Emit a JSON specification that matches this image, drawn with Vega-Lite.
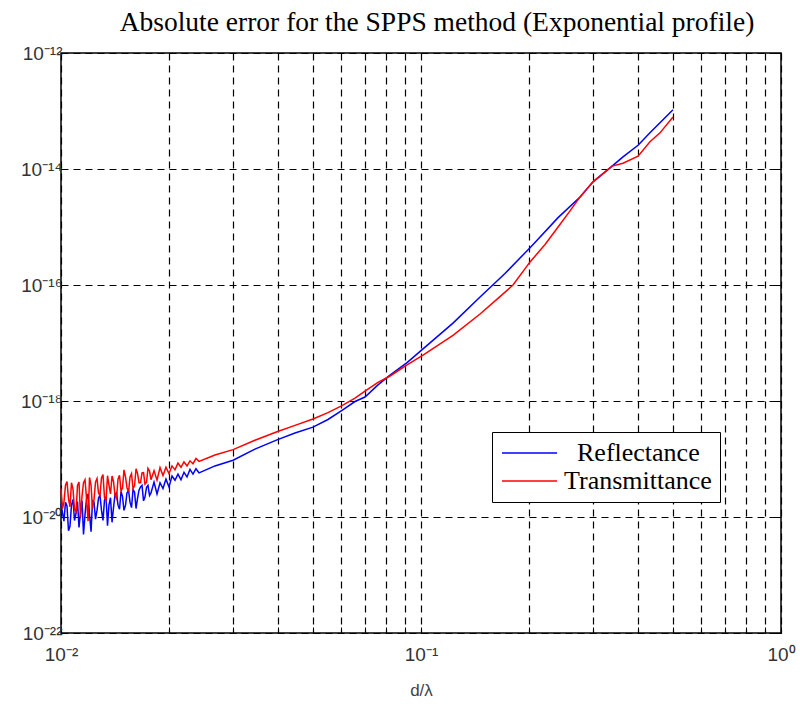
{
  "$schema": "https://vega.github.io/schema/vega-lite/v6.json",
  "width": 720,
  "height": 580,
  "autosize": {"type": "none"},
  "padding": {"left": 61, "top": 53, "right": 19, "bottom": 71},
  "background": "white",
  "title": {
    "text": "Absolute error for the SPPS method (Exponential profile)",
    "font": "Liberation Serif",
    "fontSize": 27.5,
    "fontWeight": "normal",
    "color": "black",
    "anchor": "middle",
    "dx": 16,
    "offset": 8
  },
  "config": {
    "view": {"stroke": "black", "strokeWidth": 1.5},
    "axis": {
      "labelFont": "Liberation Sans",
      "labelFontSize": 19,
      "labelColor": "#333",
      "gridColor": "#000",
      "gridDash": [7, 5],
      "gridOpacity": 1,
      "gridWidth": 1.2,
      "tickColor": "#000",
      "tickSize": -6,
      "domain": false,
      "labelFlush": false,
      "labelOverlap": false
    }
  },
  "datasets": {
    "curves": [
      {"x": 0.01, "y": 1.66e-20, "series": "Reflectance"},
      {"x": 0.010096, "y": 1.18e-20, "series": "Reflectance"},
      {"x": 0.01019, "y": 8.5e-21, "series": "Reflectance"},
      {"x": 0.010292, "y": 1.8e-20, "series": "Reflectance"},
      {"x": 0.01039, "y": 1.55e-20, "series": "Reflectance"},
      {"x": 0.010492, "y": 5.8e-21, "series": "Reflectance"},
      {"x": 0.01059, "y": 6.9e-21, "series": "Reflectance"},
      {"x": 0.010694, "y": 1.6e-20, "series": "Reflectance"},
      {"x": 0.0108, "y": 2.0e-20, "series": "Reflectance"},
      {"x": 0.010902, "y": 8.7e-21, "series": "Reflectance"},
      {"x": 0.01101, "y": 1.15e-20, "series": "Reflectance"},
      {"x": 0.011113, "y": 1.85e-20, "series": "Reflectance"},
      {"x": 0.01122, "y": 6.6e-21, "series": "Reflectance"},
      {"x": 0.011329, "y": 1.2e-20, "series": "Reflectance"},
      {"x": 0.01144, "y": 1.9e-20, "series": "Reflectance"},
      {"x": 0.011548, "y": 5.0e-21, "series": "Reflectance"},
      {"x": 0.01166, "y": 1.1e-20, "series": "Reflectance"},
      {"x": 0.011772, "y": 2.05e-20, "series": "Reflectance"},
      {"x": 0.01189, "y": 2.5e-20, "series": "Reflectance"},
      {"x": 0.012, "y": 1.12e-20, "series": "Reflectance"},
      {"x": 0.01212, "y": 5.6e-21, "series": "Reflectance"},
      {"x": 0.012232, "y": 1.9e-20, "series": "Reflectance"},
      {"x": 0.01235, "y": 1.8e-20, "series": "Reflectance"},
      {"x": 0.01247, "y": 9.2e-21, "series": "Reflectance"},
      {"x": 0.01259, "y": 1.3e-20, "series": "Reflectance"},
      {"x": 0.012711, "y": 2.1e-20, "series": "Reflectance"},
      {"x": 0.01283, "y": 2.4e-20, "series": "Reflectance"},
      {"x": 0.012957, "y": 1.3e-20, "series": "Reflectance"},
      {"x": 0.01308, "y": 8.7e-21, "series": "Reflectance"},
      {"x": 0.013209, "y": 1.97e-20, "series": "Reflectance"},
      {"x": 0.01334, "y": 2.2e-20, "series": "Reflectance"},
      {"x": 0.013465, "y": 7.1e-21, "series": "Reflectance"},
      {"x": 0.01359, "y": 1.6e-20, "series": "Reflectance"},
      {"x": 0.013725, "y": 2.15e-20, "series": "Reflectance"},
      {"x": 0.01386, "y": 8.1e-21, "series": "Reflectance"},
      {"x": 0.013991, "y": 1.45e-20, "series": "Reflectance"},
      {"x": 0.01413, "y": 2.45e-20, "series": "Reflectance"},
      {"x": 0.014263, "y": 2.6e-20, "series": "Reflectance"},
      {"x": 0.0144, "y": 1.6e-20, "series": "Reflectance"},
      {"x": 0.01454, "y": 1.36e-20, "series": "Reflectance"},
      {"x": 0.01468, "y": 2.75e-20, "series": "Reflectance"},
      {"x": 0.014821, "y": 2.25e-20, "series": "Reflectance"},
      {"x": 0.01496, "y": 1.3e-20, "series": "Reflectance"},
      {"x": 0.015109, "y": 1.6e-20, "series": "Reflectance"},
      {"x": 0.01525, "y": 2.6e-20, "series": "Reflectance"},
      {"x": 0.015402, "y": 2.9e-20, "series": "Reflectance"},
      {"x": 0.01555, "y": 1.8e-20, "series": "Reflectance"},
      {"x": 0.0157, "y": 1.45e-20, "series": "Reflectance"},
      {"x": 0.01585, "y": 2.95e-20, "series": "Reflectance"},
      {"x": 0.016005, "y": 2.7e-20, "series": "Reflectance"},
      {"x": 0.01616, "y": 1.4e-20, "series": "Reflectance"},
      {"x": 0.016315, "y": 2.1e-20, "series": "Reflectance"},
      {"x": 0.01647, "y": 2.9e-20, "series": "Reflectance"},
      {"x": 0.016631, "y": 3.3e-20, "series": "Reflectance"},
      {"x": 0.01679, "y": 3.5e-20, "series": "Reflectance"},
      {"x": 0.016954, "y": 1.9e-20, "series": "Reflectance"},
      {"x": 0.01711, "y": 2.2e-20, "series": "Reflectance"},
      {"x": 0.017283, "y": 3.25e-20, "series": "Reflectance"},
      {"x": 0.01744, "y": 3.5e-20, "series": "Reflectance"},
      {"x": 0.017618, "y": 2.35e-20, "series": "Reflectance"},
      {"x": 0.01778, "y": 2.6e-20, "series": "Reflectance"},
      {"x": 0.01813, "y": 4.0e-20, "series": "Reflectance"},
      {"x": 0.01848, "y": 2.5e-20, "series": "Reflectance"},
      {"x": 0.01884, "y": 3.9e-20, "series": "Reflectance"},
      {"x": 0.0192, "y": 3.1e-20, "series": "Reflectance"},
      {"x": 0.01957, "y": 4.5e-20, "series": "Reflectance"},
      {"x": 0.01995, "y": 3.3e-20, "series": "Reflectance"},
      {"x": 0.02034, "y": 5.1e-20, "series": "Reflectance"},
      {"x": 0.02073, "y": 4.3e-20, "series": "Reflectance"},
      {"x": 0.02113, "y": 5.5e-20, "series": "Reflectance"},
      {"x": 0.02154, "y": 4.4e-20, "series": "Reflectance"},
      {"x": 0.02196, "y": 5.9e-20, "series": "Reflectance"},
      {"x": 0.02239, "y": 4.9e-20, "series": "Reflectance"},
      {"x": 0.02282, "y": 6.6e-20, "series": "Reflectance"},
      {"x": 0.02326, "y": 5.5e-20, "series": "Reflectance"},
      {"x": 0.02371, "y": 6.8e-20, "series": "Reflectance"},
      {"x": 0.02418, "y": 5.75e-20, "series": "Reflectance"},
      {"x": 0.02677, "y": 7.6e-20, "series": "Reflectance"},
      {"x": 0.03006, "y": 9.5e-20, "series": "Reflectance"},
      {"x": 0.03457, "y": 1.48e-19, "series": "Reflectance"},
      {"x": 0.03981, "y": 2.14e-19, "series": "Reflectance"},
      {"x": 0.04467, "y": 2.8e-19, "series": "Reflectance"},
      {"x": 0.05012, "y": 3.55e-19, "series": "Reflectance"},
      {"x": 0.05516, "y": 4.8e-19, "series": "Reflectance"},
      {"x": 0.06034, "y": 6.9e-19, "series": "Reflectance"},
      {"x": 0.06556, "y": 9.8e-19, "series": "Reflectance"},
      {"x": 0.06989, "y": 1.17e-18, "series": "Reflectance"},
      {"x": 0.07595, "y": 1.9e-18, "series": "Reflectance"},
      {"x": 0.08203, "y": 2.8e-18, "series": "Reflectance"},
      {"x": 0.09146, "y": 4.6e-18, "series": "Reflectance"},
      {"x": 0.1013, "y": 7.9e-18, "series": "Reflectance"},
      {"x": 0.1227, "y": 2.2e-17, "series": "Reflectance"},
      {"x": 0.1459, "y": 6.2e-17, "series": "Reflectance"},
      {"x": 0.1711, "y": 1.58e-16, "series": "Reflectance"},
      {"x": 0.2009, "y": 4.4e-16, "series": "Reflectance"},
      {"x": 0.2403, "y": 1.45e-15, "series": "Reflectance"},
      {"x": 0.2766, "y": 3.3e-15, "series": "Reflectance"},
      {"x": 0.3005, "y": 6.0e-15, "series": "Reflectance"},
      {"x": 0.3395, "y": 1.12e-14, "series": "Reflectance"},
      {"x": 0.364, "y": 1.62e-14, "series": "Reflectance"},
      {"x": 0.4008, "y": 2.57e-14, "series": "Reflectance"},
      {"x": 0.4325, "y": 4.2e-14, "series": "Reflectance"},
      {"x": 0.5012, "y": 1.05e-13, "series": "Reflectance"},
      {"x": 0.01, "y": 3.1e-20, "series": "Transmittance"},
      {"x": 0.010096, "y": 1.4e-20, "series": "Transmittance"},
      {"x": 0.01019, "y": 1.8e-20, "series": "Transmittance"},
      {"x": 0.010292, "y": 3.55e-20, "series": "Transmittance"},
      {"x": 0.01039, "y": 4.1e-20, "series": "Transmittance"},
      {"x": 0.010492, "y": 2.05e-20, "series": "Transmittance"},
      {"x": 0.01059, "y": 1.5e-20, "series": "Transmittance"},
      {"x": 0.010694, "y": 3.9e-20, "series": "Transmittance"},
      {"x": 0.0108, "y": 3.0e-20, "series": "Transmittance"},
      {"x": 0.010902, "y": 1.36e-20, "series": "Transmittance"},
      {"x": 0.01101, "y": 1.23e-20, "series": "Transmittance"},
      {"x": 0.011113, "y": 3.5e-20, "series": "Transmittance"},
      {"x": 0.01122, "y": 4.0e-20, "series": "Transmittance"},
      {"x": 0.011329, "y": 1.0e-20, "series": "Transmittance"},
      {"x": 0.01144, "y": 2.3e-20, "series": "Transmittance"},
      {"x": 0.011548, "y": 3.9e-20, "series": "Transmittance"},
      {"x": 0.01166, "y": 4.4e-20, "series": "Transmittance"},
      {"x": 0.011772, "y": 2.1e-20, "series": "Transmittance"},
      {"x": 0.01189, "y": 8.5e-21, "series": "Transmittance"},
      {"x": 0.012, "y": 4.8e-20, "series": "Transmittance"},
      {"x": 0.01212, "y": 3.5e-20, "series": "Transmittance"},
      {"x": 0.012232, "y": 1.4e-20, "series": "Transmittance"},
      {"x": 0.01235, "y": 2.0e-20, "series": "Transmittance"},
      {"x": 0.01247, "y": 4.0e-20, "series": "Transmittance"},
      {"x": 0.01259, "y": 4.6e-20, "series": "Transmittance"},
      {"x": 0.012711, "y": 2.6e-20, "series": "Transmittance"},
      {"x": 0.01283, "y": 2.35e-20, "series": "Transmittance"},
      {"x": 0.012957, "y": 4.7e-20, "series": "Transmittance"},
      {"x": 0.01308, "y": 5.4e-20, "series": "Transmittance"},
      {"x": 0.013209, "y": 2.15e-20, "series": "Transmittance"},
      {"x": 0.01334, "y": 1.95e-20, "series": "Transmittance"},
      {"x": 0.013465, "y": 5.15e-20, "series": "Transmittance"},
      {"x": 0.01359, "y": 3.55e-20, "series": "Transmittance"},
      {"x": 0.013725, "y": 2.5e-20, "series": "Transmittance"},
      {"x": 0.01386, "y": 5.1e-20, "series": "Transmittance"},
      {"x": 0.013991, "y": 4.1e-20, "series": "Transmittance"},
      {"x": 0.01413, "y": 2.35e-20, "series": "Transmittance"},
      {"x": 0.014263, "y": 2.1e-20, "series": "Transmittance"},
      {"x": 0.0144, "y": 4.5e-20, "series": "Transmittance"},
      {"x": 0.01454, "y": 5.25e-20, "series": "Transmittance"},
      {"x": 0.01468, "y": 2.8e-20, "series": "Transmittance"},
      {"x": 0.014821, "y": 3.2e-20, "series": "Transmittance"},
      {"x": 0.01496, "y": 6.5e-20, "series": "Transmittance"},
      {"x": 0.015109, "y": 4.9e-20, "series": "Transmittance"},
      {"x": 0.01525, "y": 3.2e-20, "series": "Transmittance"},
      {"x": 0.015402, "y": 2.7e-20, "series": "Transmittance"},
      {"x": 0.01555, "y": 4.9e-20, "series": "Transmittance"},
      {"x": 0.0157, "y": 5.6e-20, "series": "Transmittance"},
      {"x": 0.01585, "y": 3.1e-20, "series": "Transmittance"},
      {"x": 0.016005, "y": 3.45e-20, "series": "Transmittance"},
      {"x": 0.01616, "y": 6.8e-20, "series": "Transmittance"},
      {"x": 0.016315, "y": 5.65e-20, "series": "Transmittance"},
      {"x": 0.01647, "y": 3.9e-20, "series": "Transmittance"},
      {"x": 0.016631, "y": 3.9e-20, "series": "Transmittance"},
      {"x": 0.01679, "y": 5.75e-20, "series": "Transmittance"},
      {"x": 0.016954, "y": 5.8e-20, "series": "Transmittance"},
      {"x": 0.01711, "y": 3.7e-20, "series": "Transmittance"},
      {"x": 0.017283, "y": 4.0e-20, "series": "Transmittance"},
      {"x": 0.01744, "y": 6.9e-20, "series": "Transmittance"},
      {"x": 0.017618, "y": 6.2e-20, "series": "Transmittance"},
      {"x": 0.01778, "y": 4.4e-20, "series": "Transmittance"},
      {"x": 0.01813, "y": 6.3e-20, "series": "Transmittance"},
      {"x": 0.01848, "y": 4.3e-20, "series": "Transmittance"},
      {"x": 0.01884, "y": 7.1e-20, "series": "Transmittance"},
      {"x": 0.0192, "y": 5.2e-20, "series": "Transmittance"},
      {"x": 0.01957, "y": 7.2e-20, "series": "Transmittance"},
      {"x": 0.01995, "y": 5.6e-20, "series": "Transmittance"},
      {"x": 0.02034, "y": 7.6e-20, "series": "Transmittance"},
      {"x": 0.02073, "y": 6.5e-20, "series": "Transmittance"},
      {"x": 0.02113, "y": 8.5e-20, "series": "Transmittance"},
      {"x": 0.02154, "y": 7.2e-20, "series": "Transmittance"},
      {"x": 0.02196, "y": 8.9e-20, "series": "Transmittance"},
      {"x": 0.02239, "y": 7.6e-20, "series": "Transmittance"},
      {"x": 0.02282, "y": 9.3e-20, "series": "Transmittance"},
      {"x": 0.02326, "y": 8.3e-20, "series": "Transmittance"},
      {"x": 0.02371, "y": 1.02e-19, "series": "Transmittance"},
      {"x": 0.02418, "y": 9.1e-20, "series": "Transmittance"},
      {"x": 0.02677, "y": 1.17e-19, "series": "Transmittance"},
      {"x": 0.03006, "y": 1.45e-19, "series": "Transmittance"},
      {"x": 0.03457, "y": 2.1e-19, "series": "Transmittance"},
      {"x": 0.03981, "y": 2.95e-19, "series": "Transmittance"},
      {"x": 0.04467, "y": 3.8e-19, "series": "Transmittance"},
      {"x": 0.05012, "y": 4.9e-19, "series": "Transmittance"},
      {"x": 0.05516, "y": 6.3e-19, "series": "Transmittance"},
      {"x": 0.06034, "y": 8.3e-19, "series": "Transmittance"},
      {"x": 0.06556, "y": 1.12e-18, "series": "Transmittance"},
      {"x": 0.06989, "y": 1.48e-18, "series": "Transmittance"},
      {"x": 0.07595, "y": 2.1e-18, "series": "Transmittance"},
      {"x": 0.08203, "y": 2.7e-18, "series": "Transmittance"},
      {"x": 0.09146, "y": 4.2e-18, "series": "Transmittance"},
      {"x": 0.1013, "y": 6.2e-18, "series": "Transmittance"},
      {"x": 0.1227, "y": 1.35e-17, "series": "Transmittance"},
      {"x": 0.1459, "y": 3.16e-17, "series": "Transmittance"},
      {"x": 0.1657, "y": 6.3e-17, "series": "Transmittance"},
      {"x": 0.1801, "y": 1.0e-16, "series": "Transmittance"},
      {"x": 0.2009, "y": 2.5e-16, "series": "Transmittance"},
      {"x": 0.2211, "y": 5.0e-16, "series": "Transmittance"},
      {"x": 0.2403, "y": 1.0e-15, "series": "Transmittance"},
      {"x": 0.2594, "y": 1.9e-15, "series": "Transmittance"},
      {"x": 0.2766, "y": 3.3e-15, "series": "Transmittance"},
      {"x": 0.3005, "y": 6.0e-15, "series": "Transmittance"},
      {"x": 0.3395, "y": 1.12e-14, "series": "Transmittance"},
      {"x": 0.364, "y": 1.26e-14, "series": "Transmittance"},
      {"x": 0.4008, "y": 1.66e-14, "series": "Transmittance"},
      {"x": 0.4325, "y": 2.95e-14, "series": "Transmittance"},
      {"x": 0.4613, "y": 4.2e-14, "series": "Transmittance"},
      {"x": 0.5012, "y": 7.9e-14, "series": "Transmittance"}
    ]
  },
  "layer": [
    {
      "data": {"name": "curves"},
      "mark": {"type": "line", "strokeWidth": 1.5},
      "encoding": {
        "x": {
          "field": "x",
          "type": "quantitative",
          "scale": {"type": "log", "domain": [0.01, 1], "nice": false},
          "axis": {
            "orient": "bottom",
            "title": "d/λ",
            "titleFont": "Liberation Sans",
            "titleFontSize": 17,
            "titleFontWeight": "normal",
            "titleColor": "#444",
            "titlePadding": 18,
            "values": [0.01, 0.02, 0.03, 0.04, 0.05, 0.06, 0.07, 0.08, 0.09, 0.1, 0.2, 0.3, 0.4, 0.5, 0.6, 0.7, 0.8, 0.9, 1],
            "grid": true,
            "labelPadding": 18,
            "labelExpr": "datum.value < 0.011 ? '10⁻²' : (abs(datum.value - 0.1) < 0.001 ? '10⁻¹' : (datum.value > 0.99 ? '10⁰' : ''))"
          }
        },
        "y": {
          "field": "y",
          "type": "quantitative",
          "scale": {"type": "log", "domain": [1e-22, 1e-12], "nice": false},
          "axis": {
            "orient": "left",
            "title": null,
            "values": [1e-22, 1e-20, 1e-18, 1e-16, 1e-14, 1e-12],
            "grid": true,
            "labelPadding": 5,
            "labelDy": 3,
            "labelExpr": "'10' + (datum.value > 5e-13 ? '⁻¹²' : (datum.value > 5e-15 ? '⁻¹⁴' : (datum.value > 5e-17 ? '⁻¹⁶' : (datum.value > 5e-19 ? '⁻¹⁸' : (datum.value > 5e-21 ? '⁻²⁰' : '⁻²²')))))"
          }
        },
        "color": {
          "field": "series",
          "type": "nominal",
          "scale": {"domain": ["Reflectance", "Transmittance"], "range": ["#0000ff", "#ff0000"]},
          "legend": {
            "orient": "none",
            "legendX": 431,
            "legendY": 379,
            "title": null,
            "symbolType": "M-5,0H5",
            "symbolSize": 121,
            "symbolStrokeWidth": 1.5,
            "symbolOffset": 16.5,
            "labelFont": "Liberation Serif",
            "labelFontSize": 26,
            "labelColor": "black",
            "labelOffset": 21.5,
            "labelLimit": 300,
            "strokeColor": "black",
            "fillColor": "white",
            "padding": 8,
            "rowPadding": 2,
            "labelExpr": "datum.label == 'Reflectance' ? '\u200b\u00a0\u00a0Reflectance' : datum.label"
          }
        }
      }
    },
    {
      "data": {"values": [{"x": 0.01, "y": 1e-22}]},
      "mark": {"type": "point", "opacity": 0},
      "encoding": {
        "x": {
          "field": "x",
          "type": "quantitative",
          "axis": {
            "orient": "top",
            "title": null,
            "labels": false,
            "grid": false,
            "values": [0.01, 0.02, 0.03, 0.04, 0.05, 0.06, 0.07, 0.08, 0.09, 0.1, 0.2, 0.3, 0.4, 0.5, 0.6, 0.7, 0.8, 0.9, 1]
          }
        },
        "y": {
          "field": "y",
          "type": "quantitative",
          "axis": {
            "orient": "right",
            "title": null,
            "labels": false,
            "grid": false,
            "values": [1e-22, 1e-20, 1e-18, 1e-16, 1e-14, 1e-12]
          }
        }
      }
    }
  ],
  "resolve": {"axis": {"x": "independent", "y": "independent"}}
}
